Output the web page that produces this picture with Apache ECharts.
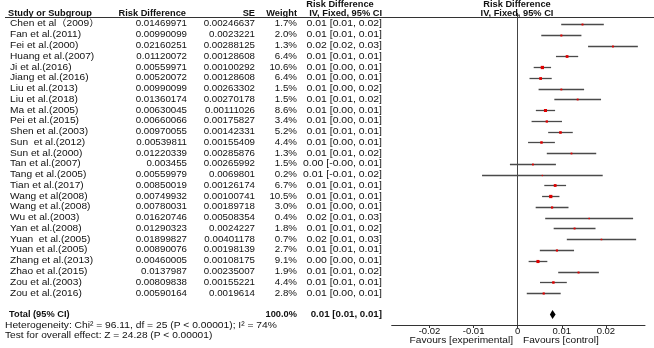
<!DOCTYPE html>
<html>
<head>
<meta charset="utf-8">
<script src="https://cdn.jsdelivr.net/npm/echarts@6/dist/echarts.min.js"></script>
<style>
  html, body { margin: 0; padding: 0; background: #fff; }
  #chart { width: 654px; height: 348px; }
</style>
</head>
<body>
<div id="chart"></div>
<script>
  // study table
  var studies = [
    'Chen et al（2009）', 'Fan et al.(2011)', 'Fei et al.(2000)', 'Huang et al.(2007)',
    'Ji et al.(2016)', 'Jiang et al.(2016)', 'Liu et al.(2013)', 'Liu et al.(2018)',
    'Ma et al.(2005)', 'Pei et al.(2015)', 'Shen et al.(2003)', 'Sun  et al.(2012)',
    'Sun et al.(2000)', 'Tan et al.(2007)', 'Tang et al.(2005)', 'Tian et al.(2017)',
    'Wang et al(2008)', 'Wang et al.(2008)', 'Wu et al.(2003)', 'Yan et al.(2008)',
    'Yuan  et al.(2005)', 'Yuan et al.(2005)', 'Zhang et al.(2013)', 'Zhao et al.(2015)',
    'Zou et al.(2003)', 'Zou et al.(2016)'
  ];
  var riskDiff = [
    0.01469971, 0.00990099, 0.02160251, 0.01120072, 0.00559971, 0.00520072, 0.00990099,
    0.01360174, 0.00630045, 0.00660066, 0.00970055, 0.00539811, 0.01220339, 0.003455,
    0.00559979, 0.00850019, 0.00749932, 0.00780031, 0.01620746, 0.01290323, 0.01899827,
    0.00890076, 0.00460005, 0.0137987, 0.00809838, 0.00590164
  ];
  var stdErr = [
    '0.00246637', '0.0023221', '0.00288125', '0.00128608', '0.00100292', '0.00128608',
    '0.00263302', '0.00270178', '0.00111026', '0.00175827', '0.00142331', '0.00155409',
    '0.00285876', '0.00265992', '0.0069801', '0.00126174', '0.00100741', '0.00189718',
    '0.00508354', '0.0024227', '0.00401178', '0.00198139', '0.00108175', '0.00235007',
    '0.00155221', '0.0019614'
  ];
  var weights = [
    1.7, 2.0, 1.3, 6.4, 10.6, 6.4, 1.5, 1.5, 8.6, 3.4, 5.2, 4.4, 1.3,
    1.5, 0.2, 6.7, 10.5, 3.0, 0.4, 1.8, 0.7, 2.7, 9.1, 1.9, 4.4, 2.8
  ];
  var ciText = [
    '0.01 [0.01, 0.02]', '0.01 [0.01, 0.01]', '0.02 [0.02, 0.03]', '0.01 [0.01, 0.01]',
    '0.01 [0.00, 0.01]', '0.01 [0.00, 0.01]', '0.01 [0.00, 0.02]', '0.01 [0.01, 0.02]',
    '0.01 [0.00, 0.01]', '0.01 [0.00, 0.01]', '0.01 [0.01, 0.01]', '0.01 [0.00, 0.01]',
    '0.01 [0.01, 0.02]', '0.00 [-0.00, 0.01]', '0.01 [-0.01, 0.02]', '0.01 [0.01, 0.01]',
    '0.01 [0.01, 0.01]', '0.01 [0.00, 0.01]', '0.02 [0.01, 0.03]', '0.01 [0.01, 0.02]',
    '0.02 [0.01, 0.03]', '0.01 [0.01, 0.01]', '0.00 [0.00, 0.01]', '0.01 [0.01, 0.02]',
    '0.01 [0.01, 0.01]', '0.01 [0.00, 0.01]'
  ];
  var ciLow = [
    0.00987, 0.00535, 0.01596, 0.00868, 0.00363, 0.00268, 0.00474, 0.00831, 0.00412,
    0.00315, 0.00691, 0.00235, 0.00660, -0.00176, -0.00808, 0.00603, 0.00553, 0.00408,
    0.00624, 0.00816, 0.01114, 0.00502, 0.00248, 0.00919, 0.00506, 0.00206
  ];
  var ciHigh = [
    0.01953, 0.01445, 0.02725, 0.01372, 0.00757, 0.00772, 0.01506, 0.01890, 0.00848,
    0.01005, 0.01249, 0.00844, 0.01781, 0.00867, 0.01928, 0.01097, 0.00947, 0.01152,
    0.02617, 0.01765, 0.02686, 0.01278, 0.00672, 0.01841, 0.01114, 0.00975
  ];
  // pooled result
  var totalEst = [0.0079];
  var totalLow = [0.0073];
  var totalHigh = [0.0086];
  var totalWeight = ['100.0%'];
  var totalCi = ['0.01 [0.01, 0.01]'];
  var tickValues = [-0.02, -0.01, 0, 0.01, 0.02];
  var tickLabels = ['-0.02', '-0.01', '0', '0.01', '0.02'];

  var FONT = '"Liberation Sans", Arial, "Noto Sans CJK SC", sans-serif';
  var TOTAL_ROW = 27;
  var col = { name: 10, rd: 187, se: 255, weight: 297, ci: 382 };

  function txt(x, y, text, align, bold, sx) {
    return {
      type: 'text', x: x, y: y, scaleX: sx,
      style: {
        text: text, fill: '#111',
        font: (bold ? 'bold ' : '') + '9px ' + FONT,
        textAlign: align, textVerticalAlign: 'middle'
      }
    };
  }

  var rows = studies.map(function (s, i) { return [i]; });

  var option = {
    animation: false,
    backgroundColor: '#fff',
    grid: [
      { left: 391.7, right: 9, top: 17, bottom: 23 },
      { left: 0, right: 0, top: 17, bottom: 23 }
    ],
    xAxis: [
      {
        gridIndex: 0, type: 'value', min: -0.02857, max: 0.02887,
        axisLine: { onZero: false, lineStyle: { color: '#333', width: 1 } },
        axisTick: { customValues: tickValues, length: 3, lineStyle: { color: '#333' } },
        axisLabel: {
          customValues: tickValues, margin: 2, fontSize: 9.5, color: '#111', fontFamily: FONT,
          formatter: function (v) { return tickLabels[tickValues.indexOf(+v.toFixed(2))]; }
        },
        splitLine: { show: false }
      },
      { gridIndex: 1, type: 'value', min: 0, max: 654, show: false }
    ],
    yAxis: [
      {
        gridIndex: 0, type: 'value', inverse: true, min: -0.65, max: 27.97,
        axisLine: { show: true, onZero: true, lineStyle: { color: '#444', width: 1 } },
        axisTick: { show: false }, axisLabel: { show: false }, splitLine: { show: false }
      },
      { gridIndex: 1, type: 'value', inverse: true, min: -0.65, max: 27.97, show: false }
    ],
    graphic: [
      { type: 'line', shape: { x1: 5, y1: 17.5, x2: 654, y2: 17.5 }, style: { stroke: '#333', lineWidth: 1 } },
      { type: 'line', shape: { x1: 517.5, y1: 13, x2: 517.5, y2: 18 }, style: { stroke: '#444', lineWidth: 1 } },
      txt(8, 13.5, 'Study or Subgroup', 'left', true, 1.03),
      txt(186, 13.5, 'Risk Difference', 'right', true, 1.03),
      txt(255, 13.5, 'SE', 'right', true, 1.03),
      txt(297, 13.5, 'Weight', 'right', true, 1.03),
      txt(340, 4.5, 'Risk Difference', 'center', true, 1.03),
      txt(382, 13.5, 'IV, Fixed, 95% CI', 'right', true, 1.03),
      txt(517, 4.5, 'Risk Difference', 'center', true, 1.03),
      txt(517, 13.5, 'IV, Fixed, 95% CI', 'center', true, 1.03),
      txt(5, 325.5, 'Heterogeneity: Chi² = 96.11, df = 25 (P < 0.00001); I² = 74%', 'left', false, 1.14),
      txt(5, 335.5, 'Test for overall effect: Z = 24.28 (P < 0.00001)', 'left', false, 1.13),
      txt(513, 340.5, 'Favours [experimental]', 'right', false, 1.13),
      txt(523, 340.5, 'Favours [control]', 'left', false, 1.13)
    ],
    series: [
      {
        // table text for each study
        type: 'custom', xAxisIndex: 1, yAxisIndex: 1, data: rows, clip: false,
        renderItem: function (params, api) {
          var i = params.dataIndex;
          var y = api.coord([0, i])[1];
          return {
            type: 'group',
            children: [
              txt(col.name, y, studies[i], 'left', false, 1.13),
              txt(col.rd, y, String(riskDiff[i]), 'right', false, 1.08),
              txt(col.se, y, stdErr[i], 'right', false, 1.08),
              txt(col.weight, y, weights[i].toFixed(1) + '%', 'right', false, 1.08),
              txt(col.ci, y, ciText[i], 'right', false, 1.16)
            ]
          };
        }
      },
      {
        // total row text
        type: 'custom', xAxisIndex: 1, yAxisIndex: 1, data: [[TOTAL_ROW]], clip: false,
        renderItem: function (params, api) {
          var y = api.coord([0, TOTAL_ROW])[1];
          return {
            type: 'group',
            children: [
              txt(9, y, 'Total (95% CI)', 'left', true, 1.03),
              txt(col.weight, y, totalWeight[0], 'right', true, 1.03),
              txt(col.ci, y, totalCi[0], 'right', true, 1.08)
            ]
          };
        }
      },
      {
        // confidence intervals + weighted squares
        type: 'custom', xAxisIndex: 0, yAxisIndex: 0, data: rows, clip: false,
        renderItem: function (params, api) {
          var i = params.dataIndex;
          var p0 = api.coord([ciLow[i], i]);
          var p1 = api.coord([ciHigh[i], i]);
          var pc = api.coord([riskDiff[i], i]);
          var yy = Math.round(pc[1]) + 0.5;
          var side = 1 + 0.7 * Math.sqrt(weights[i]);
          return {
            type: 'group',
            children: [
              { type: 'line', shape: { x1: p0[0], y1: yy, x2: p1[0], y2: yy },
                style: { stroke: '#4a4a4a', lineWidth: 1.3 } },
              { type: 'rect', shape: { x: pc[0] - side / 2, y: yy - side / 2, width: side, height: side },
                style: { fill: '#e00000' } }
            ]
          };
        }
      },
      {
        // pooled diamond
        type: 'custom', xAxisIndex: 0, yAxisIndex: 0, data: [[TOTAL_ROW]], clip: false,
        renderItem: function (params, api) {
          var l = api.coord([totalLow[0], TOTAL_ROW]);
          var r = api.coord([totalHigh[0], TOTAL_ROW]);
          var c = api.coord([totalEst[0], TOTAL_ROW]);
          return {
            type: 'polygon',
            shape: { points: [[l[0], c[1]], [c[0], c[1] - 4.5], [r[0], c[1]], [c[0], c[1] + 4.5]] },
            style: { fill: '#000' }
          };
        }
      }
    ]
  };

  var myChart = echarts.init(document.getElementById('chart'));
  myChart.setOption(option);
</script>
</body>
</html>
